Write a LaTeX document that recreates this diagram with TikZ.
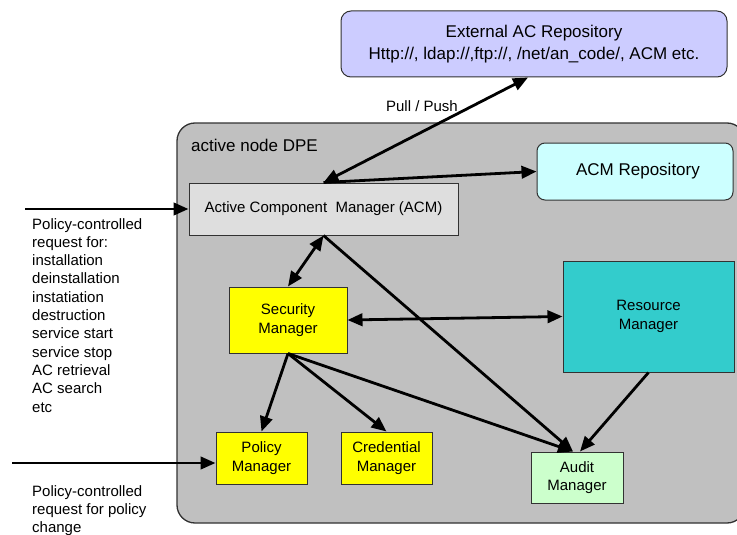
\documentclass[tikz,border=0pt]{standalone}
\usepackage{fontspec}
\setmainfont{Liberation Sans}
\usetikzlibrary{arrows.meta}
\definecolor{extfill}{RGB}{204,204,255}
\definecolor{dpefill}{RGB}{192,192,192}
\definecolor{acmfill}{RGB}{222,222,222}
\definecolor{repofill}{RGB}{204,255,255}
\definecolor{secfill}{RGB}{255,255,0}
\definecolor{resfill}{RGB}{51,204,204}
\definecolor{audfill}{RGB}{204,255,204}
\definecolor{edge}{RGB}{50,50,50}
\begin{document}
\begin{tikzpicture}[x=1pt,y=-1pt,
  box/.style={draw=edge, line width=1pt, inner sep=0pt, align=center,
    font=\fontsize{15}{18.5}\selectfont},
  bigtxt/.style={font=\fontsize{17}{22}\selectfont},
  arr/.style={line width=2.8pt, -{Triangle[length=15pt,width=12.5pt]}},
  darr/.style={line width=2.8pt, {Triangle[length=15pt,width=12.5pt]}-{Triangle[length=15pt,width=12.5pt]}},
  plain/.style={inner sep=0pt, align=left, font=\fontsize{15}{18.3}\selectfont}
]
\useasboundingbox (0,0) rectangle (737,535);
\fill[white] (0,0) rectangle (737,535);

% container
\node[draw=edge, line width=1.3pt, fill=dpefill, rounded corners=18pt,
  minimum width=568pt, minimum height=400pt, inner sep=0pt] (dpe) at (461,323) {};
\node[plain, bigtxt, anchor=west] (dpelbl) at (191,145) {active node DPE};

% boxes
\node[box, bigtxt, fill=extfill, rounded corners=10pt, minimum width=386pt, minimum height=66pt] (ext) at (534,44)
  {External AC Repository\\Http://, ldap://,ftp://, /net/an\_code/, ACM etc.};
\node[box, fill=acmfill, minimum width=269pt, minimum height=52pt] (acm) at (323.5,209)
  {Active Component\ \ Manager (ACM)};
\node[box, bigtxt, fill=repofill, rounded corners=8pt, minimum width=196pt, minimum height=57pt] (repo) at (635,171.5)
  {\hspace{6pt}ACM Repository};
\node[box, fill=secfill, minimum width=118pt, minimum height=66pt] (sec) at (288,320)
  {Security\\Manager};
\node[box, fill=resfill, minimum width=171pt, minimum height=111pt] (res) at (648.5,316.5)
  {Resource\\Manager};
\node[box, fill=secfill, minimum width=91pt, minimum height=52pt] (pol) at (261.5,458)
  {Policy\\Manager};
\node[box, fill=secfill, minimum width=91pt, minimum height=52pt] (cred) at (386.5,458)
  {Credential\\Manager};
\node[box, fill=audfill, minimum width=92pt, minimum height=51pt] (aud) at (577,477.5)
  {Audit\\Manager};

% texts
\node[plain] (pp) at (422,106) {Pull / Push};
\node[plain, anchor=north west] (req1) at (32,218)
  {Policy-controlled\\request for:\\installation\\deinstallation\\instatiation\\destruction\\service start\\service stop\\AC retrieval\\AC search\\etc};
\node[plain, anchor=north west] (req2) at (32,485)
  {Policy-controlled\\request for policy\\change};

% external inputs
\coordinate (in1) at (25,209);
\coordinate (in2) at (12,463);

% connectors
\draw[darr] (acm.north) -- ([xshift=-6pt]ext.south);
\draw[arr] (acm.north) -- (repo.west);
\draw[arr] (in1) -- (acm.west);
\draw[arr] (in2) -- (in2 -| pol.west);
\draw[darr] (acm.south) -- (sec.north);
\draw[arr] (acm.south) -- ([xshift=-4pt]aud.north);
\draw[darr] (sec.east) -- (res.west);
\draw[arr] (sec.south) -- (pol.north);
\draw[arr] (sec.south) -- (cred.north);
\draw[arr] (sec.south) -- ([xshift=-4pt]aud.north);
\draw[arr] (res.south) -- ([xshift=3pt]aud.north);
\end{tikzpicture}
\end{document}
